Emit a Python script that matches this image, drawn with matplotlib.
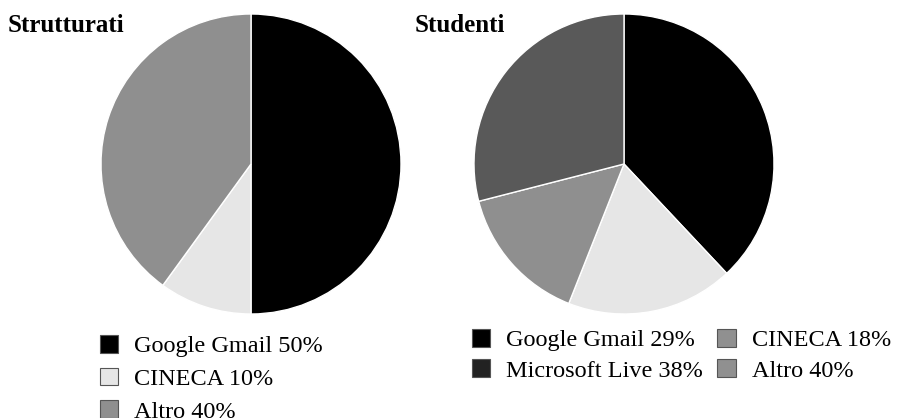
import matplotlib.pyplot as plt
from matplotlib.patches import Patch

plt.rcParams['font.family'] = ['Liberation Serif', 'DejaVu Serif']

# Strutturati
strut_labels = ['Google Gmail 50%', 'CINECA 10%', 'Altro 40%']
strut_values = [50, 10, 40]
strut_colors = ['#000000', '#e6e6e6', '#8f8f8f']

# Studenti (slices as drawn, legend text as printed)
stud_values = [38, 18, 15, 29]
stud_colors = ['#000000', '#e6e6e6', '#8f8f8f', '#595959']
stud_labels = ['Google Gmail 29%', 'Microsoft Live 38%', 'CINECA 18%', 'Altro 40%']
stud_leg_colors = ['#000000', '#222222', '#909090', '#909090']

W, H = 897, 418
fig = plt.figure(figsize=(W / 100, H / 100), dpi=100)

def px_axes(cx, cy, r):
    return fig.add_axes([(cx - r) / W, 1 - (cy + r) / H, 2 * r / W, 2 * r / H])

wedge = dict(edgecolor='white', linewidth=1)

for (cx, vals, cols) in [(251, strut_values, strut_colors), (624, stud_values, stud_colors)]:
    ax = px_axes(cx, 164, 150)
    ax.pie(vals, colors=cols, startangle=90, counterclock=False, wedgeprops=wedge)
    ax.set_xlim(-1, 1)
    ax.set_ylim(-1, 1)
    ax.set_aspect('equal')
    ax.axis('off')

fig.text(8 / W, 1 - 25 / H, 'Strutturati', fontsize=18, fontweight='bold', va='center')
fig.text(415 / W, 1 - 25 / H, 'Studenti', fontsize=18, fontweight='bold', va='center')

leg_kw = dict(frameon=False, fontsize=17.5, handlelength=0.75, handleheight=0.75,
              handletextpad=0.65, borderaxespad=0, borderpad=0)

h1 = [Patch(facecolor=c, edgecolor='#555555', linewidth=0.8) for c in strut_colors]
fig.legend(h1, strut_labels, loc='upper left', bbox_to_anchor=(100 / W, 1 - 335 / H),
           labelspacing=0.42, **leg_kw)

h2 = [Patch(facecolor=c, edgecolor='#555555', linewidth=0.8) for c in stud_leg_colors]
fig.legend(h2, stud_labels, loc='upper left', bbox_to_anchor=(472 / W, 1 - 329 / H),
           ncol=2, labelspacing=0.32, columnspacing=0.6, **leg_kw)

fig.savefig('out.png', dpi=100)
